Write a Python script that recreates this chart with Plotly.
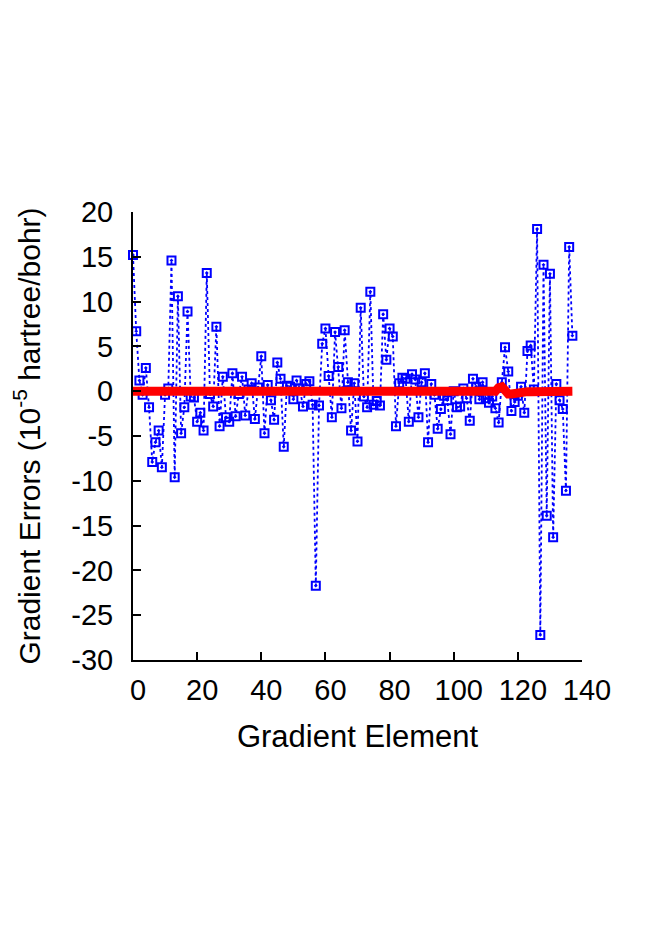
import plotly.graph_objects as go

# gradient errors per element (units of 1e-5 hartree/bohr)
errors = [
    15.2, 6.7, 1.2, -0.4, 2.6, -1.8, -7.9, -5.7, -4.4, -8.5,
    -0.4, 0.3, 14.6, -9.6, 10.6, -4.7, -1.8, 8.9, -0.6, -0.7,
    -3.4, -2.4, -4.4, 13.2, -0.3, -1.7, 7.2, -3.9, 1.6, -2.9,
    -3.4, 2.0, -2.8, -0.3, 1.6, -2.7, 0.2, 0.9, -3.1, 0.4,
    3.9, -4.7, 0.7, -1.0, -3.2, 3.2, 1.4, -6.2, 0.6, 0.5,
    -0.9, 1.2, 0.3, -1.7, 0.8, 1.1, -1.5, -21.7, -1.6, 5.3,
    7.0, 1.7, -2.9, 6.6, 2.7, -1.9, 6.8, 1.0, -4.4, 0.9,
    -5.6, 9.3, -0.6, -1.8, 11.1, -1.5, -1.1, -1.6, 8.6, 3.5,
    7.0, 6.1, -3.9, 0.9, 1.5, 1.4, -3.4, 1.9, 1.3, -2.9,
    1.0, 2.0, -5.7, 0.8, -0.4, -4.2, -2.0, -0.5, -1.0, -4.8,
    0.0, -1.8, -1.7, 0.3, -0.8, -3.3, 1.4, 0.5, -0.9, 1.0,
    -0.8, -1.3, -0.6, -1.9, -3.5, 1.0, 4.9, 2.2, -2.2, -1.2,
    -0.5, 0.5, -2.4, 4.5, 5.1, 0.2, 18.1, -27.2, 14.1, -13.9,
    13.1, -16.3, 0.8, -1.0, -2.0, -11.1, 16.1, 6.2,
]

# second series: almost flat at zero, small wiggle near element 115
reference = [0.0] * 113 + [0.0, 0.4, 0.5, 0.1, -0.3, -0.3, -0.2, -0.15, -0.1,
                           -0.05, -0.05, -0.05, -0.05] + [0.0] * 12

elements = list(range(len(errors)))

x_ticks = [0, 20, 40, 60, 80, 100, 120, 140]
y_ticks = [20, 15, 10, 5, 0, -5, -10, -15, -20, -25, -30]
y_tick_text = [str(v) for v in y_ticks]

FONT = "Liberation Sans, Arial, Helvetica, sans-serif"

fig = go.Figure()

fig.add_trace(go.Scatter(
    x=elements, y=errors,
    mode="lines+markers",
    line=dict(color="#0000ff", width=1.8, dash="dot"),
    marker=dict(symbol="square-open-dot", size=8, color="#0000ff",
                line=dict(width=2, color="#0000ff")),
    cliponaxis=False,
    showlegend=False,
))

fig.add_trace(go.Scatter(
    x=elements[:len(reference)], y=reference,
    mode="lines",
    line=dict(color="#ff0000", width=9),
    showlegend=False,
))

axis_common = dict(
    showline=True, linecolor="black", linewidth=2,
    ticks="inside", ticklen=8, tickwidth=2, tickcolor="black",
    showgrid=False, zeroline=False, automargin=False,
    tickfont=dict(family=FONT, size=29, color="black"),
)

# the page body adds an 8px offset, so the figure is 8px smaller on each side
fig.update_layout(
    width=646, height=926,
    margin=dict(l=125, r=72, t=204, b=274),
    paper_bgcolor="white", plot_bgcolor="white",
    font=dict(family=FONT, size=29, color="black"),
    xaxis=dict(
        range=[0, 140], tickmode="array", tickvals=x_ticks,
        ticklabelstandoff=3, ticklabelshift=5,
        title=dict(text="Gradient Element", font=dict(size=31), standoff=21),
        **axis_common,
    ),
    yaxis=dict(
        range=[-30, 20], tickmode="array", tickvals=y_ticks, ticktext=y_tick_text,
        ticklabelstandoff=12,
        title=dict(text="Gradient Errors (10<sup>-5</sup> hartree/bohr)",
                   font=dict(size=30), standoff=24),
        **axis_common,
    ),
)

fig.write_html("out.html")
